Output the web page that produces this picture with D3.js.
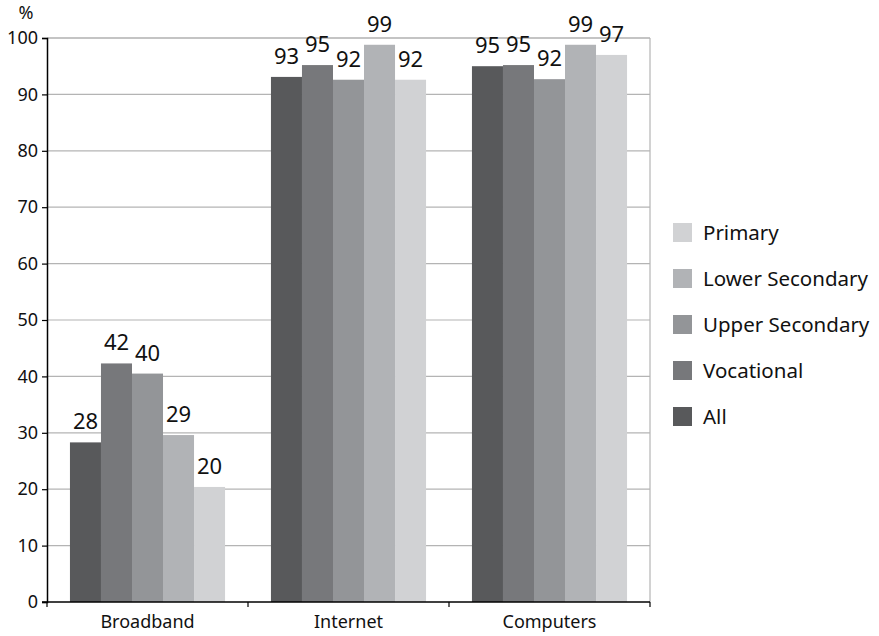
<!DOCTYPE html>
<html><head><meta charset="utf-8">
<script src="https://cdn.jsdelivr.net/npm/d3@7"></script>
<style>body{margin:0;background:#fff}svg{display:block}text{font-family:"Noto Sans",sans-serif;fill:#111}</style>
</head><body>
<svg id="c" width="879" height="636"></svg>
<script>
const categories = ["Broadband", "Internet", "Computers"];
const seriesNames = ["All", "Vocational", "Upper Secondary", "Lower Secondary", "Primary"];
const seriesColors = ["#58595b", "#77787b", "#939598", "#b1b3b6", "#d1d2d4"];
const allValues = [28.3, 93.1, 95.0];
const vocationalValues = [42.3, 95.2, 95.2];
const upperSecondaryValues = [40.5, 92.6, 92.7];
const lowerSecondaryValues = [29.6, 98.8, 98.8];
const primaryValues = [20.4, 92.6, 97.0];
const valueLabels = [
  ["28", "93", "95"],
  ["42", "95", "95"],
  ["40", "92", "92"],
  ["29", "99", "99"],
  ["20", "92", "97"]
];
const yTicks = [0, 10, 20, 30, 40, 50, 60, 70, 80, 90, 100];
const legendOrder = ["Primary", "Lower Secondary", "Upper Secondary", "Vocational", "All"];

(function(){
const series = [allValues, vocationalValues, upperSecondaryValues, lowerSecondaryValues, primaryValues];
const svg = d3.select("#c");
const mLeft = 47, mRight = 650, mTop = 38, mBottom = 602;
const FONT = '"Noto Sans",sans-serif';

const x0 = d3.scaleBand().domain(categories).range([mLeft, mRight]).padding(0);
const x1 = d3.scaleBand().domain(seriesNames).range([0, x0.bandwidth()]).paddingInner(0).paddingOuter(0.74);
const y = d3.scaleLinear().domain([0, 100]).range([mBottom, mTop]);

// gridlines
svg.append("g").selectAll("line").data(yTicks.filter(d => d > 0)).join("line")
  .attr("x1", mLeft).attr("x2", mRight)
  .attr("y1", d => y(d)).attr("y2", d => y(d))
  .attr("stroke", d => d === 100 ? "#8a8a8a" : "#b4b4b4").attr("stroke-width", 1.2);
// right border
svg.append("line").attr("x1", mRight).attr("x2", mRight).attr("y1", mTop).attr("y2", mBottom)
  .attr("stroke", "#b4b4b4").attr("stroke-width", 1.2);

// bars
const groups = svg.append("g").selectAll("g").data(categories).join("g")
  .attr("transform", d => `translate(${x0(d)},0)`);
groups.each(function(cat, ci) {
  const g = d3.select(this);
  seriesNames.forEach((s, si) => {
    const v = series[si][ci];
    g.append("rect").attr("x", x1(s)).attr("width", x1.bandwidth())
      .attr("y", y(v)).attr("height", y(0) - y(v)).attr("fill", seriesColors[si]);
  });
  seriesNames.forEach((s, si) => {
    const v = series[si][ci];
    g.append("text").attr("x", x1(s) + x1.bandwidth() / 2).attr("y", y(v) - 13)
      .attr("text-anchor", "middle").attr("font-size", 22).text(valueLabels[si][ci]);
  });
});

// y axis
const yAxis = svg.append("g").attr("transform", `translate(${mLeft},0)`)
  .call(d3.axisLeft(y).tickValues(yTicks).tickSize(5).tickPadding(4));
yAxis.select(".domain").attr("stroke", "#000").attr("stroke-width", 1.5);
yAxis.selectAll(".tick line").attr("stroke", "#000").attr("stroke-width", 1.2);
yAxis.selectAll("text").attr("font-size", 18).attr("font-family", FONT).attr("fill", "#111");

// x axis
const xAxis = svg.append("g").attr("transform", `translate(0,${mBottom})`)
  .call(d3.axisBottom(x0).tickSize(0).tickPadding(13));
xAxis.select(".domain").remove();
xAxis.append("line").attr("x1", mLeft - 5).attr("x2", mRight).attr("y1", 0).attr("y2", 0)
  .attr("stroke", "#000").attr("stroke-width", 1.5);
const bounds = categories.map(c => x0(c)).concat([mRight]);
xAxis.selectAll(".bt").data(bounds).join("line").attr("class", "bt")
  .attr("x1", d => d).attr("x2", d => d).attr("y1", 0).attr("y2", 5)
  .attr("stroke", "#000").attr("stroke-width", 1.2);
xAxis.selectAll(".tick text").attr("font-size", 18).attr("font-family", FONT).attr("fill", "#111");

// % label
svg.append("text").attr("x", 26).attr("y", 19).attr("text-anchor", "middle").attr("font-size", 18).text("%");

// legend
const lg = svg.append("g").selectAll("g").data(legendOrder).join("g")
  .attr("transform", (d, i) => `translate(673,${223 + i * 46})`);
lg.append("rect").attr("width", 19).attr("height", 19)
  .attr("fill", d => seriesColors[seriesNames.indexOf(d)]);
lg.append("text").attr("x", 30).attr("y", 10).attr("dy", "0.36em").attr("font-size", 20.5).text(d => d);
})();
</script>
</body></html>
